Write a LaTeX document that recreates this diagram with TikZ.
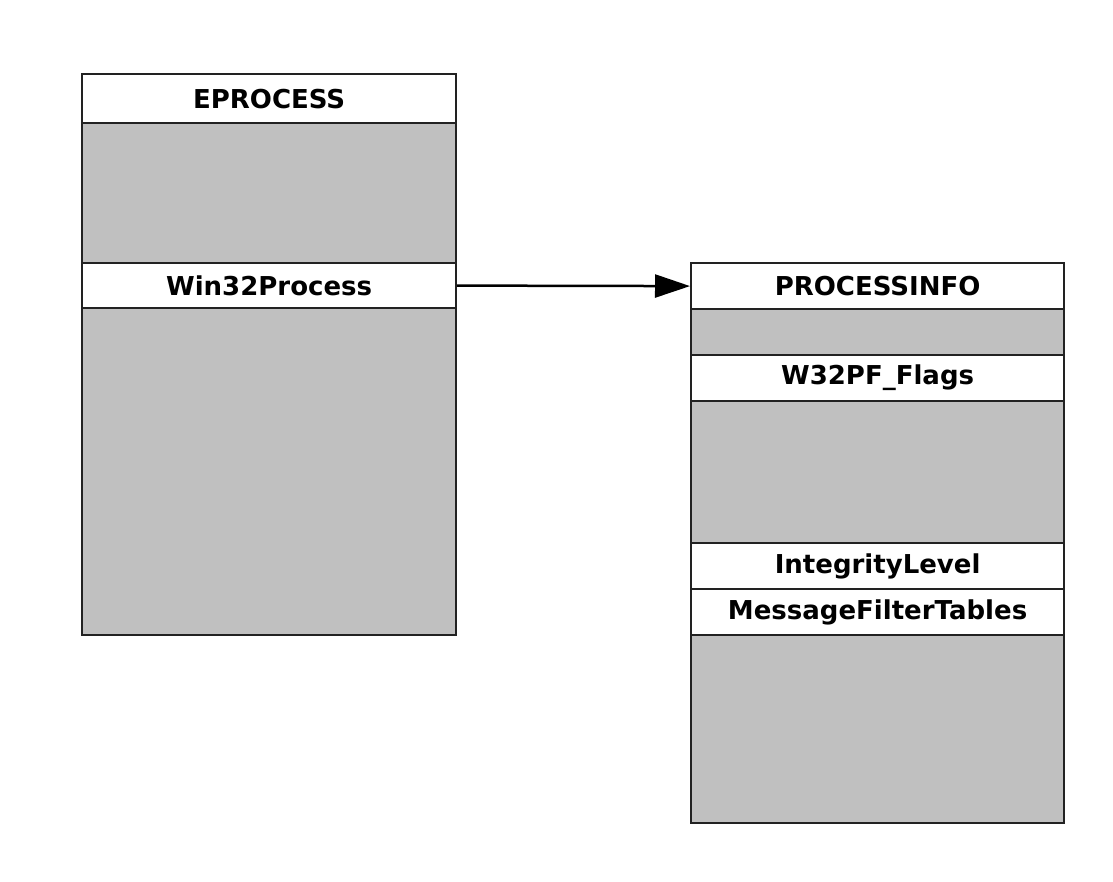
\documentclass[tikz,border=0pt]{standalone}
\usepackage{fontspec}
\setmainfont{DejaVu Sans}
\usetikzlibrary{arrows.meta}
\definecolor{cellgray}{HTML}{C0C0C0}
\definecolor{linecol}{HTML}{222222}
\begin{document}
\begin{tikzpicture}[x=1pt,y=-1pt,
  cell/.style={draw=linecol, line width=2.2pt, inner sep=0pt, anchor=north west,
    font=\bfseries\fontsize{26}{26}\selectfont, text=black},
  lcell/.style={cell, minimum width=374pt},
  rcell/.style={cell, minimum width=373pt},
  field/.style={fill=white},
  blank/.style={fill=cellgray},
  link/.style={draw=black, line width=2.5pt, -{Triangle[length=35pt,width=23pt]}}]
\useasboundingbox[fill=white] (0,0) rectangle (1113,882);
% EPROCESS structure
\node[lcell, blank, minimum height=140pt] (eg1) at (81,122) {};
\node[lcell, blank, minimum height=327pt] (eg2) at (81,307) {};
\node[lcell, field, minimum height=49pt] (ephead) at (81,73) {EPROCESS};
\node[lcell, field, minimum height=45pt] (win32) at (81,262) {Win32Process};
% PROCESSINFO structure
\node[rcell, blank, minimum height=46pt] (pg1) at (690,308) {};
\node[rcell, blank, minimum height=142pt] (pg2) at (690,400) {};
\node[rcell, blank, minimum height=188pt] (pg3) at (690,634) {};
\node[rcell, field, minimum height=46pt] (pihead) at (690,262) {PROCESSINFO};
\node[rcell, field, minimum height=46pt] (flags) at (690,354) {W32PF\_Flags};
\node[rcell, field, minimum height=46pt] (integ) at (690,542) {IntegrityLevel};
\node[rcell, field, minimum height=46pt] (mft) at (690,588) {MessageFilterTables};
% pointer
\draw[link] (win32.east) -- (pihead.west);
\end{tikzpicture}
\end{document}
